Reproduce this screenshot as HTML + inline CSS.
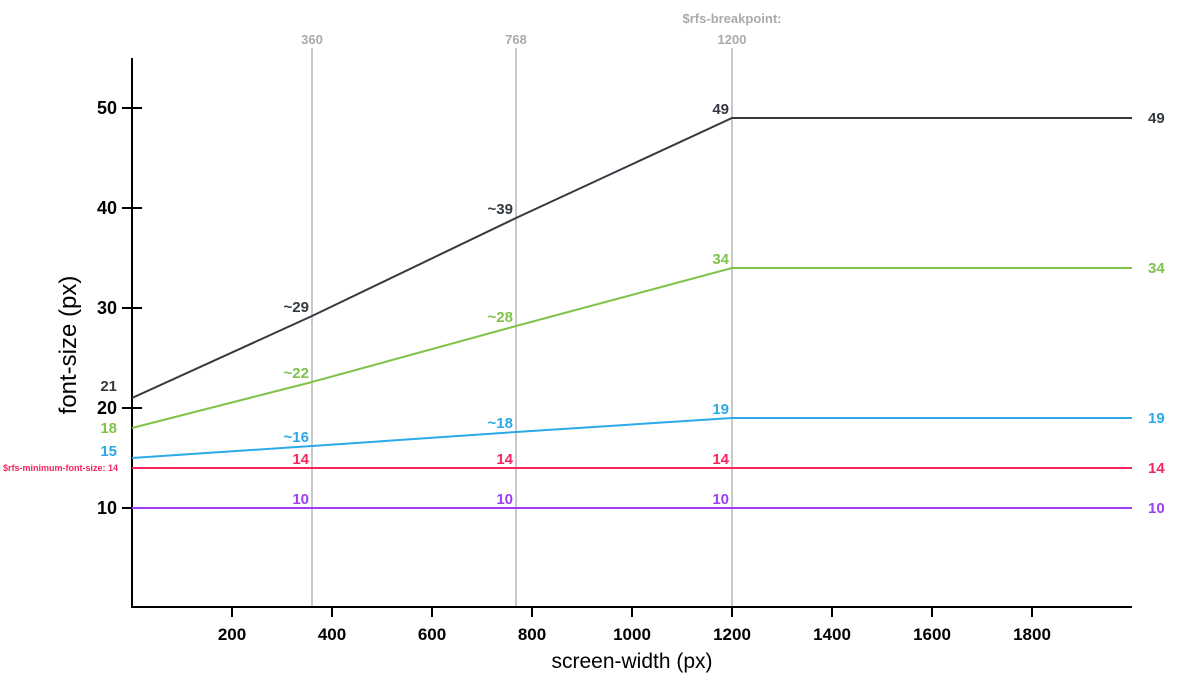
<!DOCTYPE html>
<html><head><meta charset="utf-8"><style>
body{margin:0;background:#fff;font-family:"Liberation Sans",sans-serif}
svg{display:block}
text{font-family:"Liberation Sans",sans-serif}
</style></head><body>
<svg id="c" width="1180" height="690" xmlns="http://www.w3.org/2000/svg"></svg>
<script>
const xs = [0, 360, 768, 1200, 2000];
const seriesNames = ['xl','lg','md','min','sm'];
const seriesColors = ['#343a40','#7fc34a','#2ba9e9','#f7245f','#9d3ef5'];
const valsXl = [21, 29.2, 39, 49, 49];
const valsLg = [18, 22.6, 28.2, 34, 34];
const valsMd = [15, 16.2, 17.6, 19, 19];
const valsMin = [14, 14, 14, 14, 14];
const valsSm = [10, 10, 10, 10, 10];
const labelsXl = ['21','~29','~39','49','49'];
const labelsLg = ['18','~22','~28','34','34'];
const labelsMd = ['15','~16','~18','19','19'];
const labelsMin = ['','14','14','14','14'];
const labelsSm = ['','10','10','10','10'];
const xTicks = [200,400,600,800,1000,1200,1400,1600,1800];
const yTicks = [10,20,30,40,50];
const breakpoints = [360,768,1200];
const bpLabels = ['360','768','1200'];

const X = v => 132 + v*0.5;
const Y = v => 608 - v*10;
const svg = document.getElementById('c');
const NS = 'http://www.w3.org/2000/svg';
function mk(tag, attrs, txt){const e=document.createElementNS(NS,tag);for(const k in attrs)e.setAttribute(k,attrs[k]);if(txt!==undefined)e.textContent=txt;svg.appendChild(e);return e;}

breakpoints.forEach((b,i)=>{
  const l=mk('line',{x1:X(b),x2:X(b),y1:48,y2:607,stroke:'#c8c8c8','stroke-width':2});
  
  
  const t=mk('text',{x:X(b),y:44,'text-anchor':'middle','font-size':13,'font-weight':'bold',fill:'#aaa'},bpLabels[i]);
  
  
});
const bt=mk('text',{x:X(1200),y:23,'text-anchor':'middle','font-size':13,'font-weight':'bold',fill:'#aaa'},'$rfs-breakpoint:');



const ya=mk('line',{x1:132,x2:132,y1:58,y2:608,stroke:'#000','stroke-width':2});


const xa=mk('line',{x1:131,x2:1132,y1:607,y2:607,stroke:'#000','stroke-width':2});


yTicks.forEach(v=>{
  const l=mk('line',{x1:122,x2:142,y1:Y(v),y2:Y(v),stroke:'#000','stroke-width':2});
  
  
  const t=mk('text',{x:117,y:Y(v)+6,'text-anchor':'end','font-size':18,'font-weight':'bold',fill:'#000'},String(v));
  
  
});
xTicks.forEach(v=>{
  const l=mk('line',{x1:X(v),x2:X(v),y1:607,y2:617,stroke:'#000','stroke-width':2});
  
  
  const t=mk('text',{x:X(v),y:640,'text-anchor':'middle','font-size':17,'font-weight':'bold',fill:'#000'},String(v));
  
  
});
const yt=mk('text',{x:0,y:0,transform:'translate(76,345) rotate(-90)','text-anchor':'middle','font-size':24,fill:'#000'},'font-size (px)');


const xt=mk('text',{x:632,y:668,'text-anchor':'middle','font-size':21,fill:'#000'},'screen-width (px)');



const allVals=[valsXl,valsLg,valsMd,valsMin,valsSm];
const allLabels=[labelsXl,labelsLg,labelsMd,labelsMin,labelsSm];
const startDy=[-7,5,-2,0,0];
allVals.forEach((vals,s)=>{
  const c=seriesColors[s];
  const pts=xs.map((x,i)=>X(x)+','+Y(vals[i])).join(' ');
  const p=mk('polyline',{points:pts,fill:'none',stroke:c,'stroke-width':2});
  
  
  const labs=allLabels[s];
  xs.forEach((x,i)=>{
    if(!labs[i])return;
    let attrs;
    if(i===0) attrs={x:117,y:Y(vals[i])+startDy[s],'text-anchor':'end'};
    else if(i===xs.length-1) attrs={x:1148,y:Y(vals[i])+5,'text-anchor':'start'};
    else attrs={x:X(x)-3,y:Y(vals[i])-4,'text-anchor':'end'};
    Object.assign(attrs,{'font-size':15,'font-weight':'bold',fill:c});
    const t=mk('text',attrs,labs[i]);
    
    
  });
});
const ml=mk('text',{x:3,y:471,'font-size':9,'font-weight':'bold',fill:'#f7245f'},'$rfs-minimum-font-size: 14');


</script>
</body></html>
